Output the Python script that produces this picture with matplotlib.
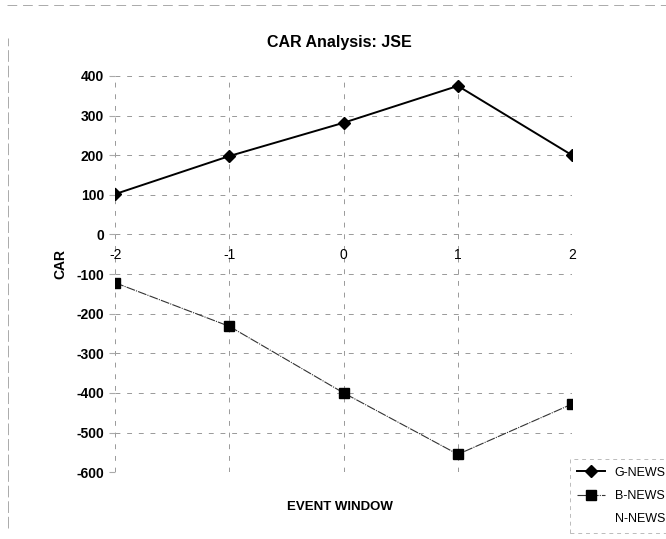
import numpy as np
import matplotlib.pyplot as plt
from matplotlib.lines import Line2D

plt.rcParams['font.family'] = ['Liberation Sans', 'DejaVu Sans']

window = [-2, -1, 0, 1, 2]
g_news = [102, 198, 282, 375, 200]
b_news = [-122, -232, -400, -555, -428]
y_ticks = [-600, -500, -400, -300, -200, -100, 0, 100, 200, 300, 400]

fig = plt.figure(figsize=(6.66, 5.39), dpi=100)
ax = fig.add_axes([0.173, 0.124, 0.686, 0.735])

ax.plot(window, g_news, color='black', lw=1.4, marker='D', ms=6, label='G-NEWS')
ax.plot(window, b_news, color='#333333', lw=0.8, ls=(0, (8, 1, 1, 1)),
        marker='s', ms=7, mfc='black', mec='black', label='B-NEWS')
ax.plot([], [], ls='none', label='N-NEWS')

ax.set_xlim(-2, 2)
ax.set_ylim(-600, 400)
ax.set_yticks(y_ticks)
ax.set_xticks(window)
ax.set_yticklabels([str(v) for v in y_ticks], fontweight='bold', fontsize=10)
ax.set_xticklabels([str(v) for v in window], fontweight='bold', fontsize=10)

for sp in ['top', 'right', 'left']:
    ax.spines[sp].set_visible(False)
ax.spines['bottom'].set_position(('data', 0))
ax.spines['bottom'].set_visible(False)
ax.tick_params(axis='x', length=0, pad=10)
ax.tick_params(axis='y', length=4, color='#aaaaaa', pad=4)

ax.grid(True, color='#999999', ls=(0, (5, 7)), lw=0.7)
ax.set_axisbelow(True)

fig.text(0.51, 0.922, 'CAR Analysis: JSE', ha='center', va='center',
         fontsize=11.5, fontweight='bold')
fig.text(0.09, 0.51, 'CAR', rotation=90, ha='center', va='center',
         fontsize=10, fontweight='bold')
fig.text(0.51, 0.06, 'EVENT WINDOW', ha='center', va='center',
         fontsize=9.5, fontweight='bold')

leg = fig.legend(loc='lower right', bbox_to_anchor=(1.02, 0.0), frameon=True,
                 fontsize=9, handlelength=2.2, labelspacing=0.9,
                 borderpad=0.6, fancybox=False)
leg.get_frame().set_edgecolor('#aaaaaa')
leg.get_frame().set_linestyle((0, (4, 4)))
leg.get_frame().set_linewidth(0.7)

fig.add_artist(Line2D([0.01, 1.0], [0.99, 0.99], color='#aaaaaa', lw=0.7,
                      ls=(0, (10, 6))))
fig.add_artist(Line2D([0.012, 0.012], [0.02, 0.93], color='#aaaaaa', lw=0.7,
                      ls=(0, (12, 4))))

fig.savefig('out.png', dpi=100)
